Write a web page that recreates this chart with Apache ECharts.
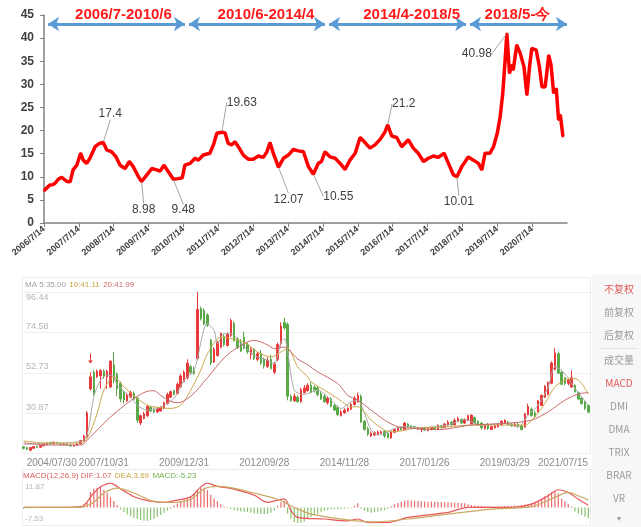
<!DOCTYPE html>
<html>
<head>
<meta charset="utf-8">
<script src="https://cdn.jsdelivr.net/npm/echarts@6/dist/echarts.min.js"></script>
<style>
html, body { margin: 0; padding: 0; background: #fff; }
#main { width: 641px; height: 527px; }
</style>
</head>
<body>
<div id="main"></div>
<script>
// ---- PE line (months since 2006/7, value) ----
var peMonth = [0, 1, 2, 3, 3.8, 4.9, 6.1, 7.2, 8, 9, 10, 11.3, 12.6, 13.5, 14.7, 15.8, 17.6, 19, 20.4, 21.6,
    23.3, 24.8, 26.2, 27.9, 29.4, 30.7, 32.5, 33.6, 35.4, 37.1, 38.8, 39.9, 41.3, 42.8, 44.5, 46.2, 47.6, 48.5,
    50.3, 52, 53.1, 54.8, 57.1, 58.3, 59.5, 61.2, 62.3, 63.4, 64.6, 65.7, 67.2, 68.6, 70.3, 72, 73.8, 75.5,
    76.7, 77.8, 78.9, 80.7, 82.4, 84.1, 85.8, 87.5, 89.3, 91, 92.7, 94.4, 95.5, 96.7, 98.5, 100.2, 101.9,
    103.6, 105.3, 107.1, 108.8, 110.5, 112.2, 113.9, 115.7, 117.4, 118.3, 119.7, 121.4, 123.1, 125.4, 127.1,
    128.8, 130.6, 132.3, 134, 135.7, 137.7, 139.2, 140.9, 142.1, 143.8, 145, 146, 147.8, 149.5, 150.7, 151.8,
    153.5, 154.7, 156, 157, 157.9, 158.7, 159.3, 160.2, 161, 161.5, 162.7, 163.9, 165.2, 166.2, 167.1, 167.9,
    169.4, 170.5, 171.4, 172.5, 173.7, 174.5, 175.4, 176.3, 177.1, 177.7, 178.6];
var peValue = [7.0, 7.6, 8.2, 8.3, 8.6, 9.45, 9.9, 9.3, 9.0, 8.9, 11.5, 12.5, 15.1, 13.6, 12.9, 14.0, 16.5, 17.2, 17.4, 15.8,
    15.4, 14.3, 12.5, 11.8, 13.3, 12.2, 10.0, 8.98, 10.4, 11.8, 11.5, 11.2, 12.5, 11.1, 9.48, 9.6, 9.8, 12.5,
    12.9, 14.0, 13.6, 14.7, 15.1, 16.9, 19.4, 19.63, 19.5, 17.2, 16.9, 17.6, 16.2, 14.7, 13.8, 13.8, 14.5, 14.2,
    15.4, 17.4, 15.1, 12.07, 14.0, 14.7, 15.9, 15.6, 15.4, 12.2, 10.55, 12.9, 13.3, 15.4, 14.3, 14.0, 12.9,
    11.6, 13.6, 15.1, 18.5, 17.4, 16.2, 16.9, 18.1, 19.75, 21.2, 18.8, 18.5, 16.5, 18.0, 16.2,
    15.1, 13.3, 14.0, 14.5, 14.2, 15.1, 12.9, 10.4, 10.01, 12.2, 13.3, 14.3, 13.6, 12.9, 11.5, 15.1,
    15.1, 16.5, 19.4, 23.0, 28.1, 35.3, 40.98, 32.4, 34.2, 33.1, 38.5, 36.7, 33.8, 27.7, 33.8, 37.8,
    37.4, 33.8, 29.4, 29.5, 36.3, 34.2, 28.1, 29.1, 22.3, 23.4, 18.7];
var peMarked = [20.4, 33.6, 44.5, 61.2, 80.7, 92.7, 118.3, 142.1, 159.3];
var yearTicks = ['2006/7/14', '2007/7/14', '2008/7/14', '2009/7/14', '2010/7/14', '2011/7/14', '2012/7/14',
    '2013/7/14', '2014/7/14', '2015/7/14', '2016/7/14', '2017/7/14', '2018/7/14', '2019/7/14', '2020/7/14'];

// periods shown by the blue arrows (months since 2006/7)
var periodText = ['2006/7-2010/6', '2010/6-2014/4', '2014/4-2018/5', '2018/5-今'];
var periodFrom = [1.4, 49.9, 98.1, 146.6];
var periodTo = [48.5, 96.7, 145.3, 180];
var periodLevel = 43.05;

// ---- monthly candles [open, close, low, high] ----
var candles = [
    [12.6, 11.8, 11.2, 13], [12.2, 11.4, 10.8, 12.6], [10.8, 12.2, 10.2, 12.6], [11.8, 12.8, 11.5, 13.2], [12.9, 12.4, 12.0, 13.3],
    [12.4, 13.3, 12.1, 13.6], [13.2, 14.0, 12.9, 14.4], [13.8, 14.8, 13.5, 15.2], [14.9, 14.2, 13.8, 15.4], [14.2, 15.1, 13.9, 15.6],
    [15.0, 14.3, 14.0, 15.3], [14.3, 13.8, 13.5, 14.7], [13.7, 14.2, 13.4, 14.6], [14.1, 13.5, 13.2, 14.4], [13.5, 13.1, 12.8, 13.8],
    [13.0, 13.6, 12.8, 13.9], [13.5, 14.3, 13.3, 14.6], [14.2, 16.0, 14.0, 16.4], [15.8, 18.5, 15.5, 19.2], [18.0, 31.0, 17.5, 32.0],
    [44, 50.5, 43, 53], [53, 42, 40.5, 54], [50.5, 53.5, 50, 54.5], [51, 54, 44, 54.5], [53.5, 51, 49.5, 54.5],
    [50.5, 53.5, 44, 54.5], [45, 59, 44.4, 59.5], [57, 48.7, 47, 64], [52, 44, 40, 53], [47, 38.5, 36.8, 48],
    [42, 38, 36, 43], [37.5, 40.5, 37, 41.5], [39.5, 42, 39, 43], [41.5, 38.5, 38, 42.5], [39, 27, 25.5, 39.5],
    [25.5, 29.5, 24.4, 30], [28, 30.5, 27.5, 31.5], [29.5, 34.5, 28.7, 35.2], [34, 32, 31.4, 34.5], [32.5, 31.5, 31, 34],
    [31.5, 33.5, 31, 34], [32, 34, 31.8, 34.5], [33.5, 36.5, 33, 37], [36, 41, 35.5, 42], [39.5, 42.5, 39, 43],
    [43, 41, 40.5, 43.5], [41.5, 46.5, 41, 47.5], [45, 51, 44.4, 52], [48, 53, 47.5, 54], [50, 58, 49, 60],
    [56, 53, 52, 57], [54, 52.5, 51.5, 56], [60.5, 87, 59.5, 96.44], [87.5, 82, 81, 88.5], [86.5, 79, 78.4, 87.5],
    [84, 78.5, 77.5, 85], [70.5, 58, 56.8, 71], [58.5, 65.5, 58, 66.5], [62, 69, 61.5, 70], [66.5, 74, 66, 74.5],
    [72.5, 68, 67, 73.5], [67.5, 73.5, 67, 74.5], [73, 81, 72, 82], [79.5, 70, 69.5, 80.5], [71, 66.5, 65.5, 72],
    [69, 64.5, 64, 71], [72, 66, 65.5, 75], [68, 64, 63, 69], [62.5, 65.5, 60, 66.5], [65.5, 60.5, 59.5, 66],
    [60, 63, 59, 64], [63, 58, 57, 65], [60, 56.5, 55, 61], [56, 59.5, 55.5, 61], [60, 55, 54.5, 62.5],
    [53, 57.5, 52, 58.5], [60, 68, 59, 69], [68.5, 78, 67, 80], [80, 77, 76, 82.5], [79, 40, 37.8, 80],
    [40, 37.5, 37, 41], [37.5, 40, 37, 41.5], [39.5, 37, 36.5, 40.5], [37, 43.5, 36.5, 44.5], [42, 44.5, 41.5, 46],
    [43, 46, 42.5, 47], [46, 42, 41.5, 47.5], [45, 43.5, 42, 46], [44.5, 41, 40, 45.5], [41.5, 38.5, 38, 42.5],
    [40, 37, 36.5, 41], [36.5, 39, 35.5, 40], [38.5, 34.5, 34, 39.5], [35, 32.5, 32, 36], [34, 30, 29.5, 35],
    [29.5, 31.5, 29, 32.5], [31, 32.5, 30.5, 33.5], [32, 33.5, 31.5, 34], [33, 35.5, 32.5, 36.5], [35.5, 39, 35, 40],
    [37, 40.5, 36.5, 42], [40, 26, 25.5, 41], [26.5, 22, 21.5, 27], [22.5, 19.5, 18.5, 23.5], [18.5, 20, 18, 21],
    [19, 20.2, 18.5, 21], [19.5, 20.6, 19, 21.5], [20, 20.8, 19.5, 21.5], [21, 18.5, 17.5, 21.5], [20, 17.5, 17.3, 21],
    [17.5, 21, 17, 21.5], [20.5, 22, 20, 22.5], [21.5, 22.8, 21, 23.5], [23, 22, 21.5, 23.5], [22, 25.5, 21.6, 26],
    [25, 23.5, 23, 25.5], [24, 23, 22.6, 24.3], [23.5, 22.7, 22.3, 24], [22.2, 23, 21.8, 23.5], [22, 22.8, 20.5, 23.3],
    [22.6, 21.7, 21.3, 23], [21.5, 22.4, 21, 22.8], [22, 23.2, 21.5, 23.5], [23, 22.2, 21.8, 23.5], [22, 24.3, 21.7, 24.8],
    [24, 23, 22.5, 24.5], [23, 25, 22.8, 25.5], [24.5, 26, 24, 27], [26, 24.5, 24, 26.5], [24.5, 27, 24.3, 28],
    [26.5, 28, 26, 29], [27.5, 25.5, 25, 28], [25.5, 27.5, 25, 28], [27, 29.5, 26.5, 30], [25, 29.8, 24.5, 30.2],
    [28.5, 25.5, 25, 29], [26.5, 24.5, 24, 27], [25.5, 23, 22, 26], [22.5, 24.5, 22, 25], [24.5, 22.5, 21.7, 25.5],
    [22, 23.5, 21.7, 24], [23, 24, 22.5, 24.5], [23.5, 25, 23, 25.5], [24.5, 26.5, 24, 27], [25.5, 27, 25, 27.5],
    [26, 24.5, 24, 26.5], [25, 24, 23.5, 25.5], [24, 25, 23.5, 25.5], [25, 23.5, 23, 25.5], [24, 22, 21.5, 24.5],
    [23.3, 30.5, 23, 31], [30, 34.5, 29.8, 36], [33, 29.5, 29, 34], [31, 29, 28.5, 32], [31.5, 37.5, 31.4, 38],
    [35, 40.5, 34.8, 41], [39.5, 45.5, 39, 46], [41, 47.5, 40.5, 48], [47, 58, 46.5, 59], [54.5, 63.5, 54, 66],
    [63, 52.5, 52, 64], [53, 46.5, 46, 53.5], [50, 47, 46, 50.5], [47, 49, 46, 50], [45, 50, 44.5, 54],
    [46, 42.5, 42, 46.5], [42, 38.5, 38, 42.5], [39, 36, 35.5, 39.5], [37, 33.5, 32.5, 37.5], [35, 31.5, 30.8, 35.5]
];
var candleTickIdx = [0, 24, 48, 72, 96, 120, 144, 168];
var candleTickText = ['2004/07/30', '2007/10/31', '2009/12/31', '2012/09/28', '2014/11/28', '2017/01/26', '2019/03/29', '2021/07/15'];
var priceTicks = [30.87, 52.73, 74.58, 96.44];
var flagCandle = 20, flagPrice = 60.5;   // small red down arrow above the first jump

// moving averages: [candle index, value]
var ma5 = [[0, 14.0], [7, 14.5], [17, 15.5], [19, 19.0], [21, 39.7], [23, 48.7], [25, 51.4], [27, 50.5], [28, 46.0], [32, 39.7],
    [34, 35.2], [37, 32.5], [40, 33.4], [42, 35.2], [45, 38.8], [48, 48.7], [51, 54.1], [55, 79.3], [57, 75.6], [58, 68.5],
    [60, 73.9], [62, 73.9], [65, 68.5], [69, 62.2], [73, 59.5], [75, 57.7], [77, 69.3], [78, 71.2], [81, 43.3], [84, 41.0],
    [88, 43.3], [92, 37.9], [95, 33.4], [98, 37.0], [100, 37.9], [102, 30.7], [104, 21.7], [106, 19.0], [108, 19.9], [111, 22.6],
    [114, 23.5], [118, 23.0], [127, 24.4], [132, 27.4], [137, 24.4], [144, 25.3], [148, 23.5], [151, 29.8], [154, 35.2], [157, 45.1],
    [159, 55.9], [161, 54.1], [163, 49.6], [165, 44.2], [167, 39.7], [169, 35.0]];
var ma10 = [[0, 15.8], [7, 14.7], [17, 14.7], [19, 17.2], [22, 30.7], [24, 43.3], [27, 50.5], [30, 45.1], [34, 38.8], [37, 35.2],
    [41, 33.8], [44, 33.4], [47, 35.2], [50, 43.3], [53, 54.1], [55, 63.0], [59, 72.0], [62, 71.2], [66, 69.3], [70, 64.0],
    [74, 61.2], [77, 64.0], [79, 65.8], [82, 56.0], [85, 50.5], [86, 47.8], [90, 43.3], [94, 38.8], [98, 34.3], [100, 34.3],
    [104, 27.1], [108, 21.7], [111, 20.8], [117, 22.6], [127, 23.5], [134, 24.4], [144, 24.4], [150, 24.4], [153, 28.9], [156, 36.1],
    [159, 45.1], [162, 48.7], [165, 49.6], [167, 46.9], [169, 41.11]];
var ma20 = [[0, 14.8], [7, 13.6], [17, 13.6], [20, 18.1], [25, 27.1], [29, 33.4], [33, 38.8], [37, 42.7], [39, 43.0], [41, 40.5],
    [44, 37.2], [46, 36.5], [50, 40.0], [55, 50.0], [60, 60.8], [64, 66.4], [69, 70.3], [73, 67.8], [75, 65.8], [78, 66.6],
    [82, 60.2], [85, 57.0], [88, 53.2], [94, 46.9], [97, 40.5], [100, 37.9], [104, 32.5], [108, 27.1], [112, 23.5], [117, 22.6],
    [124, 21.9], [127, 22.4], [134, 24.4], [144, 25.3], [152, 27.1], [157, 31.6], [162, 37.9], [166, 41.2], [169, 41.99]];

// MACD panel
var macdHist = [-0.6, -0.5, -0.5, -0.4, 0.2, 0.3, 0.3, 0.4, 0.4, 0.3, 0.2, 0.2, 0.3, 0.3, 0.2, 0.3, 0.5, 0.9, 1.5, 2.2,
    7.5, 9.2, 9.6, 10.1, 8.6, 7.2, 5.0, 3.2, 1.2, -1.0, -2.2, -3.4, -4.3, -5.0, -5.6, -6.1, -6.4, -6.5, -6.1, -5.6,
    -4.6, -3.6, -2.6, -1.6, -0.6, 0.9, 1.9, 3.0, 3.9, 4.7, 5.3, 6.6, 8.6, 9.8, 9.6, 8.4, 6.2, 4.3, 3.0, 1.6,
    0.5, -0.3, -0.8, -1.3, -1.6, -1.9, -2.1, -2.3, -2.6, -2.9, -3.1, -3.2, -3.2, -3.1, -2.6, -1.5, 0.8, 2.5, 3.3, -3.0,
    -5.6, -7.0, -7.5, -7.4, -6.8, -5.4, -4.6, -3.8, -3.2, -2.3, -1.6, -1.2, -1.0, -0.9, -0.8, -0.7, -0.6, -0.4, -0.3, 0.8,
    2.0, -0.8, -1.6, -2.2, -2.5, -2.3, -2.0, -1.7, -1.4, -0.8, 0.6, 1.5, 2.2, 2.8, 3.3, 3.5, 3.4, 3.3, 3.1, 3.0,
    2.9, 2.8, 2.9, 2.7, 2.6, 2.6, 2.5, 2.5, 2.4, 2.4, 2.3, 2.2, 2.0, 1.6, 1.2, 1.0, 0.9, 0.8, 0.7, 0.6,
    0.6, 0.5, 0.5, 0.6, 0.7, 0.8, 0.8, 0.9, 1.0, 1.2, 1.5, 1.7, 2.2, 2.8, 3.3, 4.3, 5.4, 6.4, 7.4, 8.0,
    6.8, 4.4, 3.0, 1.6, 0.5, -2.0, -2.9, -3.6, -4.5, -5.23];
var dif = [[0, 0], [17, 0.3], [21, 7], [23, 10], [26, 11.8], [29, 9], [33, 5.2], [37, 3.3], [42, 2.5], [45, 3.3], [50, 5.2],
    [53, 10], [55, 11.8], [58, 10.2], [62, 9.3], [69, 6], [73, 2.5], [78, 4.2], [80, -1.5], [82, -4.8], [90, -5.6], [97, -6.5],
    [100, -5.6], [103, -7.3], [109, -7.3], [115, -4.8], [127, -2.4], [133, 0], [146, 0], [152, 1.6], [157, 5.7], [160, 8.6],
    [163, 7.3], [166, 4], [169, 1.07]];
var dea = [[0, 0], [17, 0.2], [21, 2.5], [24, 7], [28, 9.4], [33, 7], [39, 3], [45, 2.5], [50, 4], [54, 9], [58, 10.2],
    [62, 9.6], [69, 7], [76, 4], [81, 0], [86, -3.2], [97, -6], [105, -7], [115, -5.6], [127, -3.2], [140, -0.8], [152, 0.4],
    [159, 4.9], [163, 7.3], [166, 5.7], [169, 3.69]];
var macdRange = [-7.53, 11.87];

var sideItems = ['不复权', '前复权', '后复权', '成交量', 'MACD', 'DMI', 'DMA', 'TRIX', 'BRAR', 'VR', '▾'];
var sideActive = ['不复权', 'MACD'];

// ---- layout / style ----
var UP = '#e83a3a', DOWN = '#5aa84a';
var topFont = 'Liberation Sans';
var appFont = 'Liberation Sans';
var labelShift = {
    20.4: [7, -17], 33.6: [2, 40], 44.5: [10, 43], 61.2: [20, -18], 80.7: [10, 44],
    92.7: [25, 34], 118.3: [16, -9], 142.1: [2, 37], 159.3: [-30, 32]
};
var periodShift = [7, 9, 14, -1];
var sideY = [289, 312, 335, 360, 383, 406, 429, 452, 475, 498, 518];

var peData = peMonth.map(function (m, i) {
    var item = { value: [m, peValue[i]] };
    if (peMarked.indexOf(m) >= 0) {
        item.label = { show: true, formatter: String(peValue[i]) };
    }
    return item;
});

var periodLines = periodText.map(function (t, i) {
    var s = periodShift[i];
    return [
        {
            coord: [periodFrom[i], periodLevel], name: t,
            label: { padding: s >= 0 ? [0, 0, 0, 2 * s] : [0, -2 * s, 0, 0] }
        },
        { coord: [periodTo[i], periodLevel] }
    ];
});

var candleCats = candles.map(function (c, i) { return String(i); });

var graphics = [
    { type: 'rect', shape: { x: 22.5, y: 277.5, width: 568, height: 176 }, style: { fill: 'none', stroke: '#ececec', lineWidth: 1 }, silent: true },
    { type: 'rect', shape: { x: 22.5, y: 469.5, width: 568, height: 56 }, style: { fill: 'none', stroke: '#ececec', lineWidth: 1 }, silent: true },
    { type: 'rect', shape: { x: 592, y: 275, width: 49, height: 252 }, style: { fill: '#f7f7f7' }, silent: true },
    { type: 'line', shape: { x1: 600, y1: 348.5, x2: 638, y2: 348.5 }, style: { stroke: '#e3e3e3', lineWidth: 1 }, silent: true },
    {
        type: 'text', left: 25, top: 279, silent: true,
        style: {
            text: '{a|MA 5:35.00} {b|10:41.11} {c|20:41.99}',
            rich: {
                a: { fill: '#a0a0a0', fontSize: 8, fontFamily: appFont },
                b: { fill: '#c9a440', fontSize: 8, fontFamily: appFont },
                c: { fill: '#c86a6a', fontSize: 8, fontFamily: appFont }
            }
        }
    },
    {
        type: 'text', left: 23, top: 470, silent: true,
        style: {
            text: '{a|MACD(12,26,9) DIF:1.07} {b|DEA:3.69} {c|MACD:-5.23}',
            rich: {
                a: { fill: '#e06060', fontSize: 8, fontFamily: appFont },
                b: { fill: '#c9a440', fontSize: 8, fontFamily: appFont },
                c: { fill: '#6fb24f', fontSize: 8, fontFamily: appFont }
            }
        }
    }
];
sideItems.forEach(function (t, i) {
    graphics.push({
        type: 'text', x: 619, y: sideY[i], silent: true,
        style: {
            text: t, fill: sideActive.indexOf(t) >= 0 ? '#e05a5a' : '#9a9a9a',
            fontSize: t === '▾' ? 8 : 10, fontFamily: 'Noto Sans CJK SC',
            align: 'center', verticalAlign: 'middle'
        }
    });
});

var option = {
    animation: false,
    backgroundColor: '#fff',
    graphic: graphics,
    grid: [
        { left: 44, top: 15, width: 523, height: 208 },
        { left: 22, top: 292, width: 568, height: 161.5 },
        { left: 22, top: 483, width: 568, height: 40 }
    ],
    xAxis: [
        {
            type: 'value', gridIndex: 0, min: 0, max: 180, interval: 12,
            axisLine: { show: true, onZero: false, lineStyle: { color: '#808080', width: 1.5 } },
            axisTick: { show: true, length: 4, lineStyle: { color: '#808080' } },
            splitLine: { show: false },
            axisLabel: {
                rotate: 40, margin: 5, fontSize: 9, fontWeight: 'bold', color: '#404040', fontFamily: topFont,
                showMaxLabel: false,
                formatter: function (v) { return yearTicks[Math.round(v / 12)] || ''; }
            }
        },
        {
            type: 'category', gridIndex: 1, data: candleCats, boundaryGap: true,
            axisLine: { show: false }, axisTick: { show: false }, splitLine: { show: false },
            axisLabel: {
                margin: 5, fontSize: 10, color: '#8a8a8a', fontFamily: appFont,
                interval: function (idx) { return candleTickIdx.indexOf(idx) >= 0; },
                formatter: function (v, idx) {
                    var k = candleTickIdx.indexOf(idx);
                    if (k < 0) return '';
                    if (k === 0) return '{f|' + candleTickText[k] + '}';
                    if (k === candleTickIdx.length - 1) return '{l|' + candleTickText[k] + '}';
                    return candleTickText[k];
                },
                rich: {
                    f: { padding: [0, 0, 0, 56], fontSize: 10, color: '#8a8a8a', fontFamily: appFont },
                    l: { padding: [0, 44, 0, 0], fontSize: 10, color: '#8a8a8a', fontFamily: appFont }
                }
            }
        },
        {
            type: 'category', gridIndex: 2, data: candleCats, boundaryGap: true,
            axisLine: { show: false }, axisTick: { show: false }, axisLabel: { show: false }, splitLine: { show: false }
        }
    ],
    yAxis: [
        {
            type: 'value', gridIndex: 0, min: 0, max: 45, interval: 5,
            axisLine: { show: true, lineStyle: { color: '#808080', width: 1.5 } },
            axisTick: { show: true, length: 4, lineStyle: { color: '#808080' } },
            splitLine: { show: false },
            axisLabel: { margin: 10, fontSize: 12, fontWeight: 'bold', color: '#404040', fontFamily: topFont }
        },
        {
            type: 'value', gridIndex: 1, min: 9.01, max: 96.44, interval: 21.8575,
            axisLine: { show: false }, axisTick: { show: false },
            splitLine: { show: true, lineStyle: { color: '#efefef', width: 1 } },
            axisLabel: {
                inside: true, margin: 4, showMinLabel: false,
                formatter: function (v) {
                    var best = 0;
                    for (var i = 1; i < priceTicks.length; i++) {
                        if (Math.abs(priceTicks[i] - v) < Math.abs(priceTicks[best] - v)) best = i;
                    }
                    var s = priceTicks[best].toFixed(2);
                    return best === priceTicks.length - 1 ? '{t|' + s + '}' : '{b|' + s + '}';
                },
                rich: {
                    t: { padding: [12, 0, 0, 0], fontSize: 9, color: '#b4b4b4', fontFamily: appFont },
                    b: { padding: [0, 0, 12, 0], fontSize: 9, color: '#b4b4b4', fontFamily: appFont }
                }
            }
        },
        {
            type: 'value', gridIndex: 2, min: macdRange[0], max: macdRange[1], interval: macdRange[1] - macdRange[0],
            axisLine: { show: false }, axisTick: { show: false }, splitLine: { show: false },
            axisLabel: {
                inside: true, margin: 3,
                formatter: function (v) {
                    return v > 0 ? '{t|' + macdRange[1].toFixed(2) + '}' : '{b|' + macdRange[0].toFixed(2) + '}';
                },
                rich: {
                    t: { padding: [8, 0, 0, 0], fontSize: 8, color: '#b4b4b4', fontFamily: appFont },
                    b: { padding: [0, 0, 8, 0], fontSize: 8, color: '#b4b4b4', fontFamily: appFont }
                }
            }
        }
    ],
    series: [
        {
            name: 'PE', type: 'line', xAxisIndex: 0, yAxisIndex: 0,
            data: peData, symbol: 'circle', symbolSize: 2, showSymbol: true, showAllSymbol: true, smooth: false,
            itemStyle: { color: '#ff0000' },
            lineStyle: { color: '#ff0000', width: 3.5 },
            label: { show: false, position: 'top', distance: 5, fontSize: 12, color: '#404040', fontFamily: topFont },
            labelLine: { show: true, lineStyle: { color: '#a6a6a6', width: 1 } },
            labelLayout: function (params) {
                var s = labelShift[peMonth[params.dataIndex]];
                return s ? { dx: s[0], dy: s[1] } : {};
            },
            emphasis: { disabled: true },
            markLine: {
                silent: true, symbol: ['arrow', 'arrow'], symbolSize: [11, 11],
                lineStyle: { color: '#5b9bd5', width: 3, type: 'solid' },
                label: {
                    show: true, position: 'insideMiddleTop', distance: 2, formatter: '{b}',
                    color: '#ff1a1a', fontSize: 15, fontWeight: 'bold', fontFamily: topFont
                },
                emphasis: { disabled: true },
                data: periodLines
            }
        },
        {
            name: 'K', type: 'candlestick', xAxisIndex: 1, yAxisIndex: 1,
            data: candles, barWidth: 2,
            itemStyle: { color: UP, color0: DOWN, borderColor: UP, borderColor0: DOWN, borderWidth: 1 },
            emphasis: { disabled: true },
            markPoint: {
                silent: true,
                symbol: 'path://M2,0 L3,0 L3,7 L5,7 L2.5,10 L0,7 L2,7 Z',
                symbolSize: [5, 10],
                itemStyle: { color: UP },
                label: { show: false },
                data: [{ coord: [flagCandle, flagPrice] }]
            }
        },
        {
            name: 'MA5', type: 'line', xAxisIndex: 1, yAxisIndex: 1, data: ma5, symbol: 'none', smooth: 0.3,
            lineStyle: { color: '#a9a9a9', width: 1 }, emphasis: { disabled: true }
        },
        {
            name: 'MA10', type: 'line', xAxisIndex: 1, yAxisIndex: 1, data: ma10, symbol: 'none', smooth: 0.3,
            lineStyle: { color: '#cda84e', width: 1 }, emphasis: { disabled: true }
        },
        {
            name: 'MA20', type: 'line', xAxisIndex: 1, yAxisIndex: 1, data: ma20, symbol: 'none', smooth: 0.3,
            lineStyle: { color: '#c96a6a', width: 1 }, emphasis: { disabled: true }
        },
        {
            name: 'MACD', type: 'bar', xAxisIndex: 2, yAxisIndex: 2, data: macdHist, barWidth: 1.2,
            itemStyle: { color: function (p) { return p.value >= 0 ? '#ea6a6a' : '#8cc46f'; } },
            emphasis: { disabled: true }
        },
        {
            name: 'DIF', type: 'line', xAxisIndex: 2, yAxisIndex: 2, data: dif, symbol: 'none', smooth: 0.3,
            lineStyle: { color: '#e8575a', width: 1.2 }, emphasis: { disabled: true }
        },
        {
            name: 'DEA', type: 'line', xAxisIndex: 2, yAxisIndex: 2, data: dea, symbol: 'none', smooth: 0.3,
            lineStyle: { color: '#c9a961', width: 1.2 }, emphasis: { disabled: true }
        }
    ]
};

var myChart = echarts.init(document.getElementById('main'));
myChart.setOption(option);
</script>
</body>
</html>
